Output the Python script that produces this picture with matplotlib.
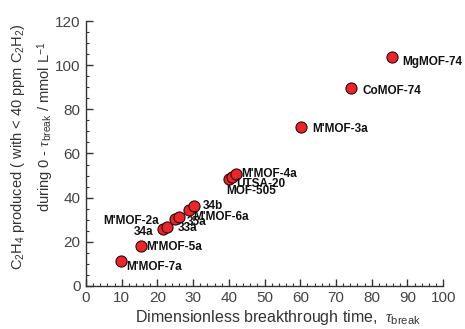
import matplotlib
matplotlib.use("Agg")
import matplotlib.pyplot as plt
from matplotlib.ticker import MultipleLocator

# data
names = ["M'MOF-7a", "M'MOF-5a", "34a", "M'MOF-2a", "33a", "35a", "M'MOF-6a", "34b",
         "MOF-505", "UTSA-20", "M'MOF-4a", "M'MOF-3a", "CoMOF-74", "MgMOF-74"]
tau_break = [9.8, 15.3, 21.5, 22.6, 24.9, 26.1, 28.9, 30.3, 39.9, 40.8, 41.9, 60.1, 74.2, 85.7]
c2h4_mmol = [11.3, 18.1, 25.8, 26.8, 30.2, 31.4, 34.4, 36.2, 48.3, 49.5, 50.5, 72.1, 89.7, 103.5]

# label offsets in pixels (dx, dy, horizontal alignment)
offsets = {
    "M'MOF-7a": (5, -6, "left"),
    "M'MOF-5a": (6, -1, "left"),
    "34a": (-9, -3, "right"),
    "M'MOF-2a": (-8, 6, "right"),
    "33a": (3, -9, "left"),
    "35a": (8, -5, "left"),
    "M'MOF-6a": (4, -7, "left"),
    "34b": (9, 0, "left"),
    "MOF-505": (-2, -12, "left"),
    "UTSA-20": (5, -7, "left"),
    "M'MOF-4a": (6, 0, "left"),
    "M'MOF-3a": (12, -2, "left"),
    "CoMOF-74": (11, -3, "left"),
    "MgMOF-74": (10, -5, "left"),
}

plt.rcParams["font.family"] = ["Liberation Sans", "DejaVu Sans"]
plt.rcParams["mathtext.fontset"] = "custom"
plt.rcParams["mathtext.rm"] = "Liberation Sans"
plt.rcParams["mathtext.it"] = "Liberation Serif:italic"

fig = plt.figure(figsize=(4.65, 3.29), dpi=100)
ax = fig.add_axes([0.185, 0.131, 0.768, 0.805])

ax.scatter(tau_break, c2h4_mmol, s=64, color="#e8262b", edgecolor="#2a0a0a",
           linewidth=0.8, zorder=3)

for name, x, y in zip(names, tau_break, c2h4_mmol):
    dx, dy, ha = offsets[name]
    ax.annotate(name, (x, y), xytext=(dx, dy), textcoords="offset pixels",
                ha=ha, va="center", fontsize=8.5, fontweight="bold", color="#111111")

ax.set_xlim(0, 100)
ax.set_ylim(0, 120)
ax.xaxis.set_major_locator(MultipleLocator(10))
ax.xaxis.set_minor_locator(MultipleLocator(2))
ax.yaxis.set_major_locator(MultipleLocator(20))
ax.yaxis.set_minor_locator(MultipleLocator(5))

for side in ["top", "right"]:
    ax.spines[side].set_visible(False)
for side in ["left", "bottom"]:
    ax.spines[side].set_color("#333333")
    ax.spines[side].set_linewidth(1.0)

ax.tick_params(which="major", direction="in", length=5, width=1.0, colors="#333333",
               labelsize=11, labelcolor="#444444", pad=4)
ax.tick_params(which="minor", direction="in", length=2.5, width=0.8, colors="#333333")

ax.set_xlabel(r"Dimensionless breakthrough time, $\ \tau_{\rm break}$",
              fontsize=11.5, color="#333333", labelpad=2)
ax.xaxis.set_label_coords(0.538, -0.085)

fig.text(0.039, 0.555, r"C$_2$H$_4$ produced ( with < 40 ppm C$_2$H$_2$)",
         rotation=90, ha="center", va="center", fontsize=10.5, color="#333333")
fig.text(0.097, 0.615, r"during 0 - $\tau_{\rm break}$ / mmol L$^{-1}$",
         rotation=90, ha="center", va="center", fontsize=10.5, color="#333333")

fig.savefig("out.png", dpi=100)
